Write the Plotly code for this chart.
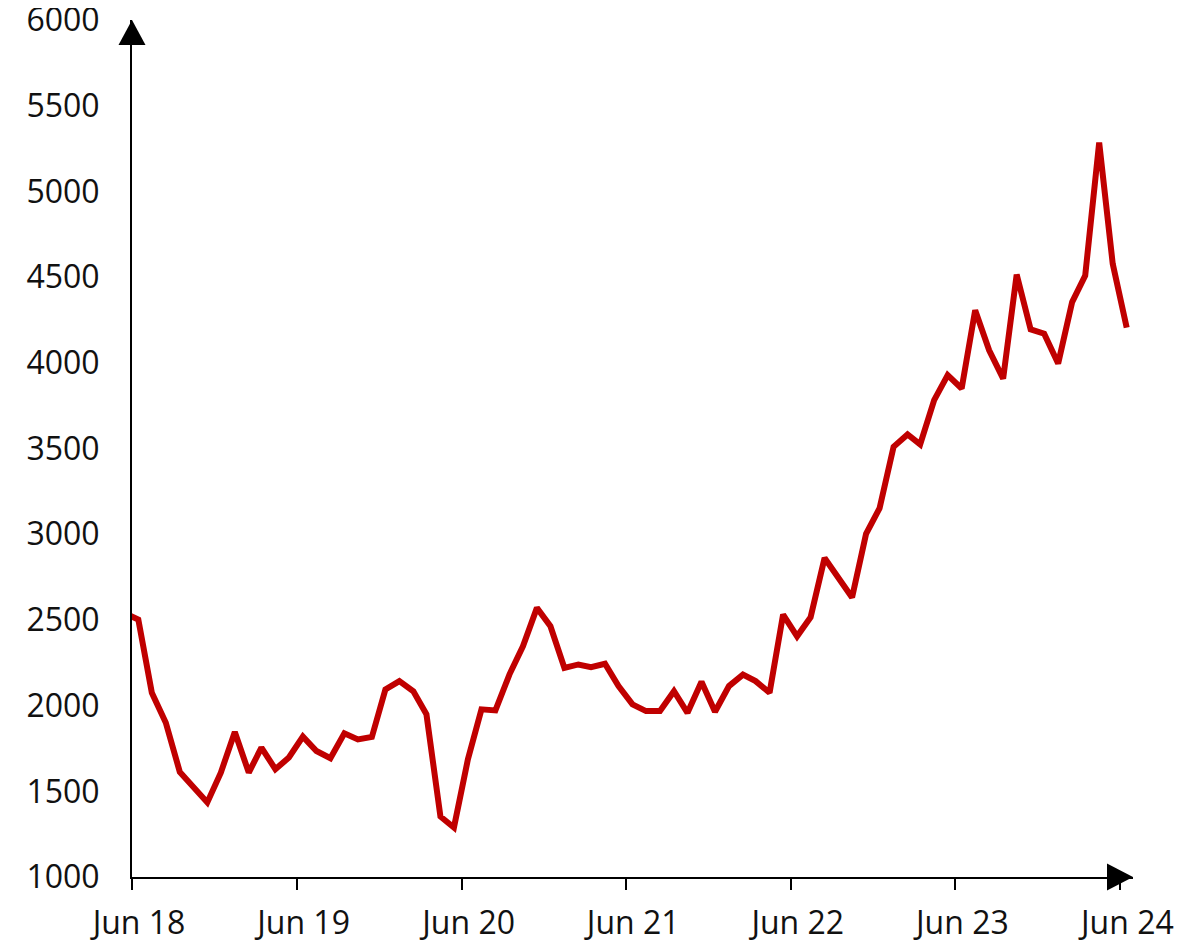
import plotly.graph_objects as go
import pandas as pd

# Monthly values (mid-month), May 2018 .. Jun 2024
months = pd.date_range("2018-05-01", "2024-06-01", freq="MS") + pd.Timedelta(days=14)
values = [
    2540,                                                         # May 18
    2502, 2075, 1900, 1613, 1522, 1435, 1609, 1846, 1609, 1755, 1629, 1697,  # Jun 18 - May 19
    1819, 1735, 1693, 1838, 1803, 1817, 2094, 2143, 2084, 1949, 1353, 1289,  # Jun 19 - May 20
    1687, 1978, 1972, 2181, 2346, 2570, 2463, 2220, 2240, 2224, 2244, 2114,  # Jun 20 - May 21
    2007, 1968, 1968, 2084, 1958, 2139, 1964, 2114, 2181, 2143, 2075, 2531,  # Jun 21 - May 22
    2404, 2516, 2861, 2744, 2631, 3002, 3152, 3510, 3582, 3524, 3782, 3928,  # Jun 22 - May 23
    3850, 4306, 4073, 3908, 4515, 4195, 4170, 3996, 4354, 4509, 5285, 4578,  # Jun 23 - May 24
    4205,                                                         # Jun 24
]

tick_dates = ["2018-06-01", "2019-06-01", "2020-06-01", "2021-06-01",
              "2022-06-01", "2023-06-01", "2024-06-01"]
tick_labels = ["Jun 18", "Jun 19", "Jun 20", "Jun 21", "Jun 22", "Jun 23", "Jun 24"]
y_ticks = [1000, 1500, 2000, 2500, 3000, 3500, 4000, 4500, 5000, 5500, 6000]

fig = go.Figure()
fig.add_trace(go.Scatter(
    x=months, y=values, mode="lines",
    line=dict(color="#C00000", width=6),
    hoverinfo="skip", showlegend=False,
))

font_family = "Open Sans, Noto Sans, sans-serif"

# page body has an 8px margin, so the figure is a bit smaller and offset
fig.update_layout(
    width=1195, height=937,
    margin=dict(l=124, r=70, t=12, b=68, autoexpand=False),
    paper_bgcolor="white", plot_bgcolor="white",
    font=dict(family=font_family, size=32, color="#111111"),
    xaxis=dict(
        type="date",
        range=["2018-06-01", "2024-06-29"],
        tickvals=tick_dates, ticktext=tick_labels,
        showgrid=False, zeroline=False,
        showline=True, linecolor="black", linewidth=2,
        ticks="outside", ticklen=11, tickwidth=2, tickcolor="black",
        tickfont=dict(size=32, color="#111111"),
        ticklabelstandoff=6, ticklabelshift=7,
        automargin=False, ticklabeloverflow="allow",
    ),
    yaxis=dict(
        range=[1000, 6000],
        tickvals=y_ticks,
        showgrid=False, zeroline=False,
        showline=True, linecolor="black", linewidth=2,
        ticks="", ticklabelstandoff=24,
        tickfont=dict(size=32, color="#111111"),
        automargin=False, ticklabeloverflow="allow",
    ),
    shapes=[
        dict(type="path", xref="paper", yref="paper",
             xsizemode="pixel", ysizemode="pixel", xanchor=1, yanchor=0,
             path="M -26,-13.5 L 0,0 L -26,13.5 Z",
             fillcolor="black", line=dict(color="black", width=0)),
        dict(type="path", xref="paper", yref="paper",
             xsizemode="pixel", ysizemode="pixel", xanchor=0, yanchor=1,
             path="M -13.5,-25 L 0,0 L 13.5,-25 Z",
             fillcolor="black", line=dict(color="black", width=0)),
    ],
)

fig.write_html("out.html")
